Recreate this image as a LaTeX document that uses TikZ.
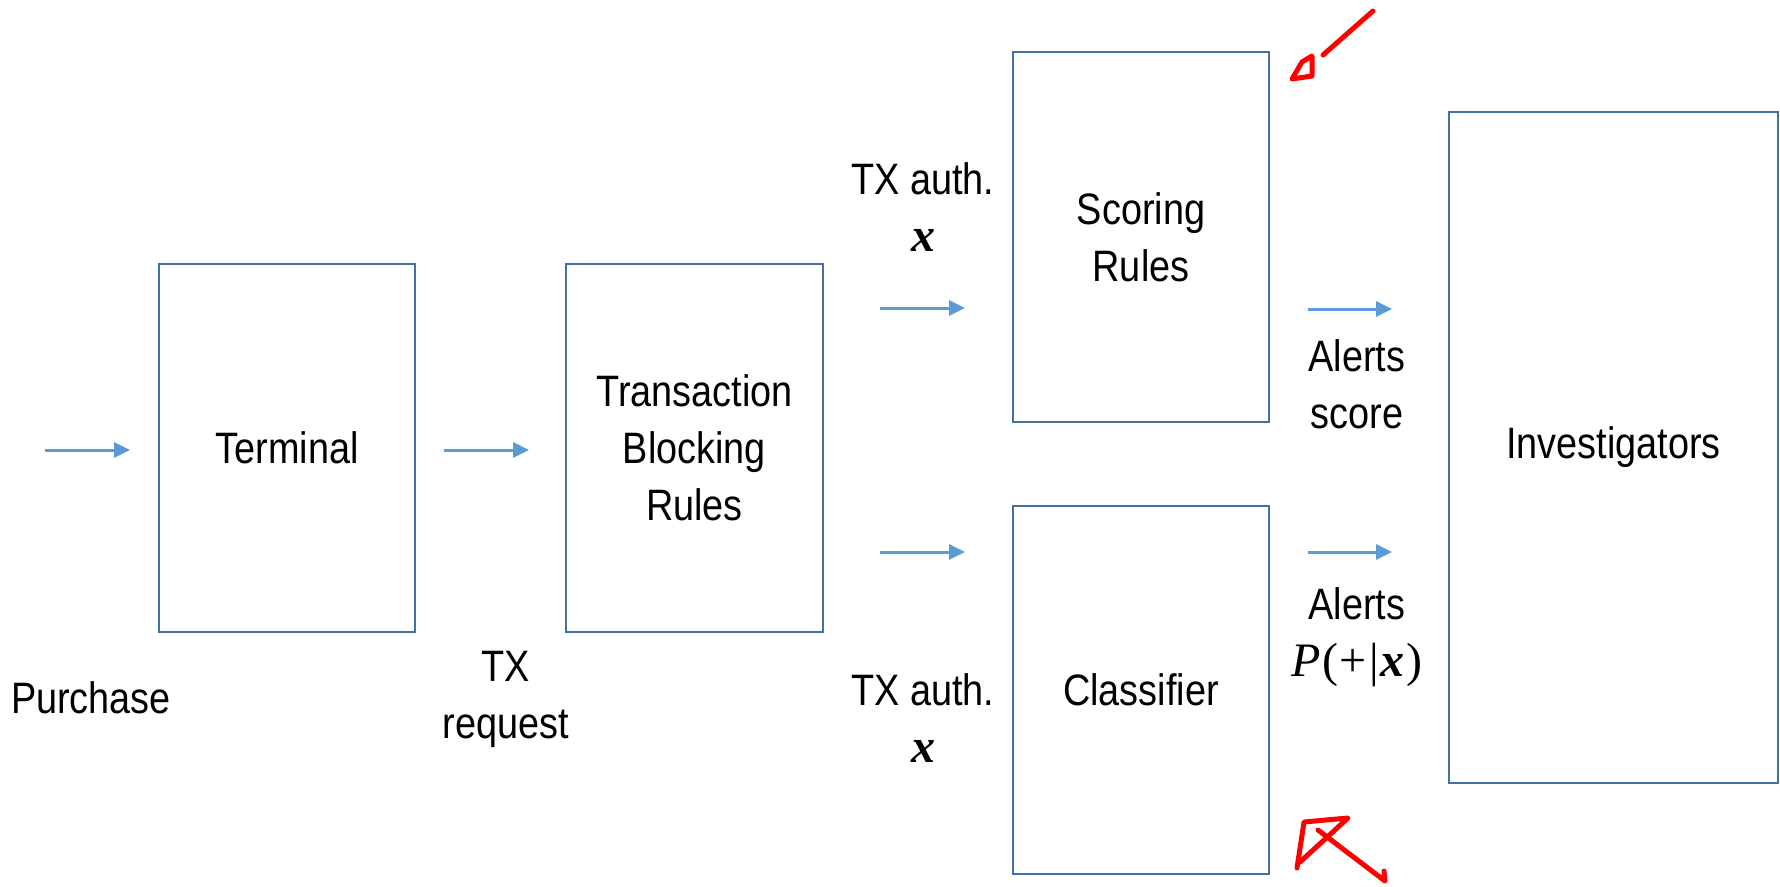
\documentclass[tikz,border=0pt]{standalone}
\usepackage{fontspec}
\setmainfont{Liberation Sans}[FakeStretch=0.86]
\newfontfamily\symfont{Liberation Serif}
\newcommand{\vx}{{\symfont\bfseries\itshape x}}
\newcommand{\vP}{{\symfont\itshape P}}
\usetikzlibrary{arrows.meta}
\definecolor{boxline}{HTML}{41719C}
\definecolor{flow}{HTML}{5B9BD5}
\definecolor{pen}{HTML}{FF0000}
\tikzset{
  stage/.style={draw=boxline, line width=2.6pt, rectangle, inner sep=0pt, align=center,
    font=\fontsize{44}{57}\selectfont},
  lbl/.style={align=center, inner sep=0pt, font=\fontsize{44}{57}\selectfont},
  flowarrow/.style={draw=flow, line width=3pt, -{Triangle[length=16pt,width=15pt]}},
  ink/.style={draw=pen, line width=5pt, line cap=round, line join=round}
}
\begin{document}
\begin{tikzpicture}[x=1pt,y=-1pt]
\useasboundingbox (0,0) rectangle (1780,886);

% processing stages
\node[stage, minimum width=256pt, minimum height=368pt] (term) at (287,448) {Terminal};
\node[stage, minimum width=257pt, minimum height=368pt] (block) at (694.5,448) {Transaction\\Blocking\\Rules};
\node[stage, minimum width=256pt, minimum height=370pt] (score) at (1141,237) {Scoring\\Rules};
\node[stage, minimum width=256pt, minimum height=368pt] (clf) at (1141,690) {Classifier};
\node[stage, minimum width=329pt, minimum height=671pt] (inv) at (1613.5,447.5) {Investigators};

% flow arrows
\coordinate (a1s) at (45,450);   \coordinate (a1e) at (130,450);
\coordinate (a2s) at (444,450);  \coordinate (a2e) at (529,450);
\coordinate (a3s) at (880,308);  \coordinate (a3e) at (965,308);
\coordinate (a4s) at (880,552);  \coordinate (a4e) at (965,552);
\coordinate (a5s) at (1308,309); \coordinate (a5e) at (1392,309);
\coordinate (a6s) at (1308,552); \coordinate (a6e) at (1392,552);
\foreach \s/\e in {a1s/a1e,a2s/a2e,a3s/a3e,a4s/a4e,a5s/a5e,a6s/a6e}
  \draw[flowarrow] (\s) -- (\e);

% labels
\node[lbl] (purchase) at (91,698) {Purchase};
\node[lbl] (txreq) at (506,699) {TX\\request};
\node[lbl] (auth1) at (923,207) {TX auth.\\{\fontsize{48}{57}\selectfont\vx}};
\node[lbl] (auth2) at (923,718) {TX auth.\\{\fontsize{48}{57}\selectfont\vx}};
\node[lbl] (al1) at (1357,384) {Alerts\\score};
\node[lbl] (al2) at (1357,637) {Alerts\\{\fontsize{48}{57}\selectfont\vP\hspace{2pt}{\symfont(}\hspace{1pt}{\symfont+}\hspace{3pt}{\symfont|}\hspace{1pt}\vx\hspace{2pt}{\symfont)}}};

% hand-drawn pointers
\draw[ink] (1373,11) -- (1323,55);
\draw[ink] (1312,56) -- (1302,62) -- (1292,79) -- (1312,76) -- cycle;
\draw[ink] (1297,868) -- (1304,822) -- (1348,818) -- (1300,862);
\draw[ink] (1318,830) -- (1385,881) -- (1384,871);
\end{tikzpicture}
\end{document}
